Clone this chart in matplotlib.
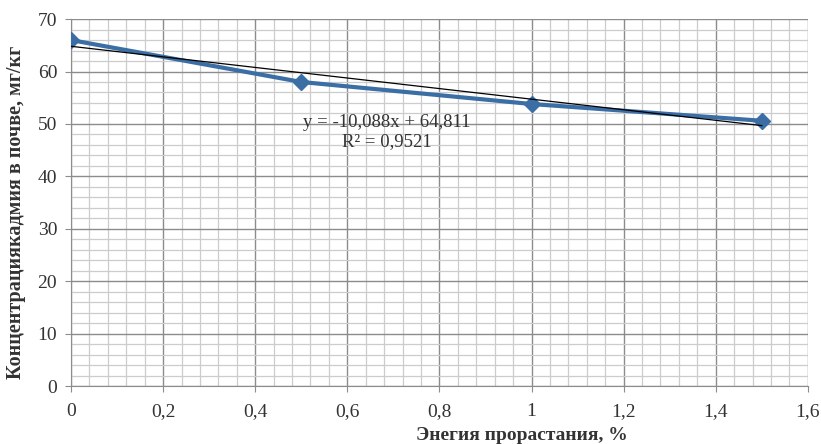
import numpy as np
import matplotlib.pyplot as plt
from matplotlib.ticker import MultipleLocator, FuncFormatter

# Data
energy = [0.0, 0.5, 1.0, 1.5]
cadmium = [66.0, 58.0, 53.8, 50.6]
trend_slope = -10.088
trend_intercept = 64.811
trend_r2 = 0.9521

plt.rcParams['font.family'] = ['Liberation Serif', 'DejaVu Serif']

fig = plt.figure(figsize=(8.21, 4.44), dpi=100)
ax = fig.add_axes([0.0865, 0.1306, 0.8975, 0.8264])

# Grid
ax.xaxis.set_major_locator(MultipleLocator(0.2))
ax.xaxis.set_minor_locator(MultipleLocator(0.04))
ax.yaxis.set_major_locator(MultipleLocator(10))
ax.yaxis.set_minor_locator(MultipleLocator(2))
ax.grid(True, which='major', color='#8c8c8c', linewidth=1.0)
ax.grid(True, which='minor', color='#cccccc', linewidth=0.9)
ax.set_axisbelow(True)

# Series and linear trend
ax.plot(energy, cadmium, color='#3b6ea5', linewidth=3, marker='D', markersize=8.5,
        markerfacecolor='#3b6ea5', markeredgecolor='#3b6ea5', zorder=3)
xt = np.array([energy[0], energy[-1]])
ax.plot(xt, trend_slope * xt + trend_intercept, color='black', linewidth=0.9, zorder=4)

ax.text(0.685, 50.2, 'y = -10,088x + 64,811', ha='center', va='center', fontsize=13.5, color='#333333')
ax.text(0.685, 46.6, 'R² = 0,9521', ha='center', va='center', fontsize=13.5, color='#333333')

ax.set_xlim(0, 1.6)
ax.set_ylim(0, 70)

fmt = FuncFormatter(lambda v, p: ('%g' % round(v, 2)).replace('.', ','))
ax.xaxis.set_major_formatter(fmt)

for side in ['top', 'right']:
    ax.spines[side].set_visible(False)
for side in ['left', 'bottom']:
    ax.spines[side].set_color('#8c8c8c')
ax.tick_params(which='major', length=4, color='#8c8c8c', labelsize=14, labelcolor='#333333')
ax.tick_params(which='minor', length=0)
ax.tick_params(axis='x', pad=8)
ax.tick_params(axis='y', pad=6)

ax.set_xlabel('Энегия прорастания, %', fontsize=14, fontweight='bold', color='#333333')
ax.set_ylabel('Концентрациякадмия в почве, мг/кг', fontsize=14.5, fontweight='bold', color='#333333')
ax.xaxis.set_label_coords(0.612, -0.112)
ax.yaxis.set_label_coords(-0.061, 0.474)

plt.savefig('out.png', dpi=100)
